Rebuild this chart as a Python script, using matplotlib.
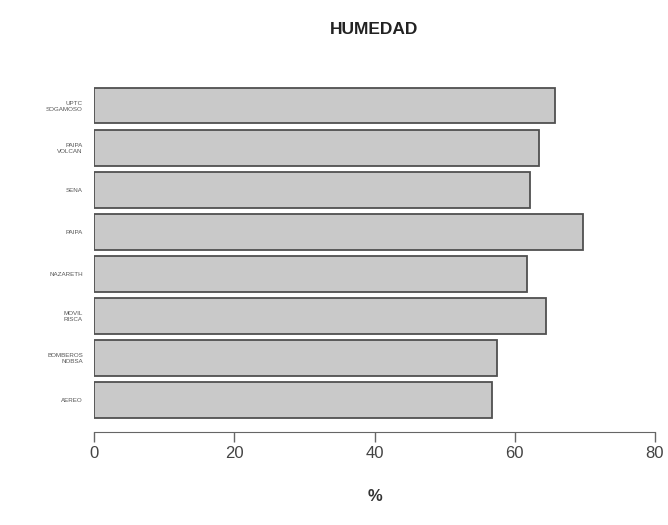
import matplotlib.pyplot as plt
import numpy as np

plt.rcParams["font.family"] = ["Liberation Sans", "DejaVu Sans"]

stations = ["UPTC\nSOGAMOSO", "PAIPA\nVOLCAN", "SENA", "PAIPA", "NAZARETH",
            "MOVIL\nRISCA", "BOMBEROS\nNOBSA", "AEREO"]
humedad = [65.8, 63.4, 62.2, 69.8, 61.8, 64.4, 57.5, 56.8]
xticks = [0, 20, 40, 60, 80]

fig = plt.figure(figsize=(6.68, 5.25), dpi=100)
ax = fig.add_axes([94 / 668, 1 - 432 / 525, (655 - 94) / 668, (432 - 85) / 525])

ypos = np.arange(len(stations))[::-1]
ax.barh(ypos, humedad, height=0.85, color="#c9c9c9", edgecolor="#505050", linewidth=1.3)

ax.set_xlim(0, 80)
ax.set_ylim(-0.76, 7.49)
ax.set_yticks(ypos)
ax.set_yticklabels(stations, fontsize=4.5, color="#555555", linespacing=1.1)
ax.tick_params(axis="y", length=0, pad=8)

ax.set_xticks(xticks)
ax.set_xticklabels([str(t) for t in xticks], fontsize=12, color="#444444")
ax.tick_params(axis="x", length=7, width=1, color="#666666", pad=3)
for side in ["top", "right", "left"]:
    ax.spines[side].set_visible(False)
ax.spines["bottom"].set_color("#666666")
ax.spines["bottom"].set_bounds(0, 80)

ax.set_xlabel("%", fontsize=12, fontweight="bold", color="#333333", labelpad=20)
fig.text((94 + 655) / 2 / 668, 1 - 30 / 525, "HUMEDAD", ha="center", va="center",
         fontsize=12.5, fontweight="bold", color="#222222")

fig.savefig("out.png", dpi=100)
